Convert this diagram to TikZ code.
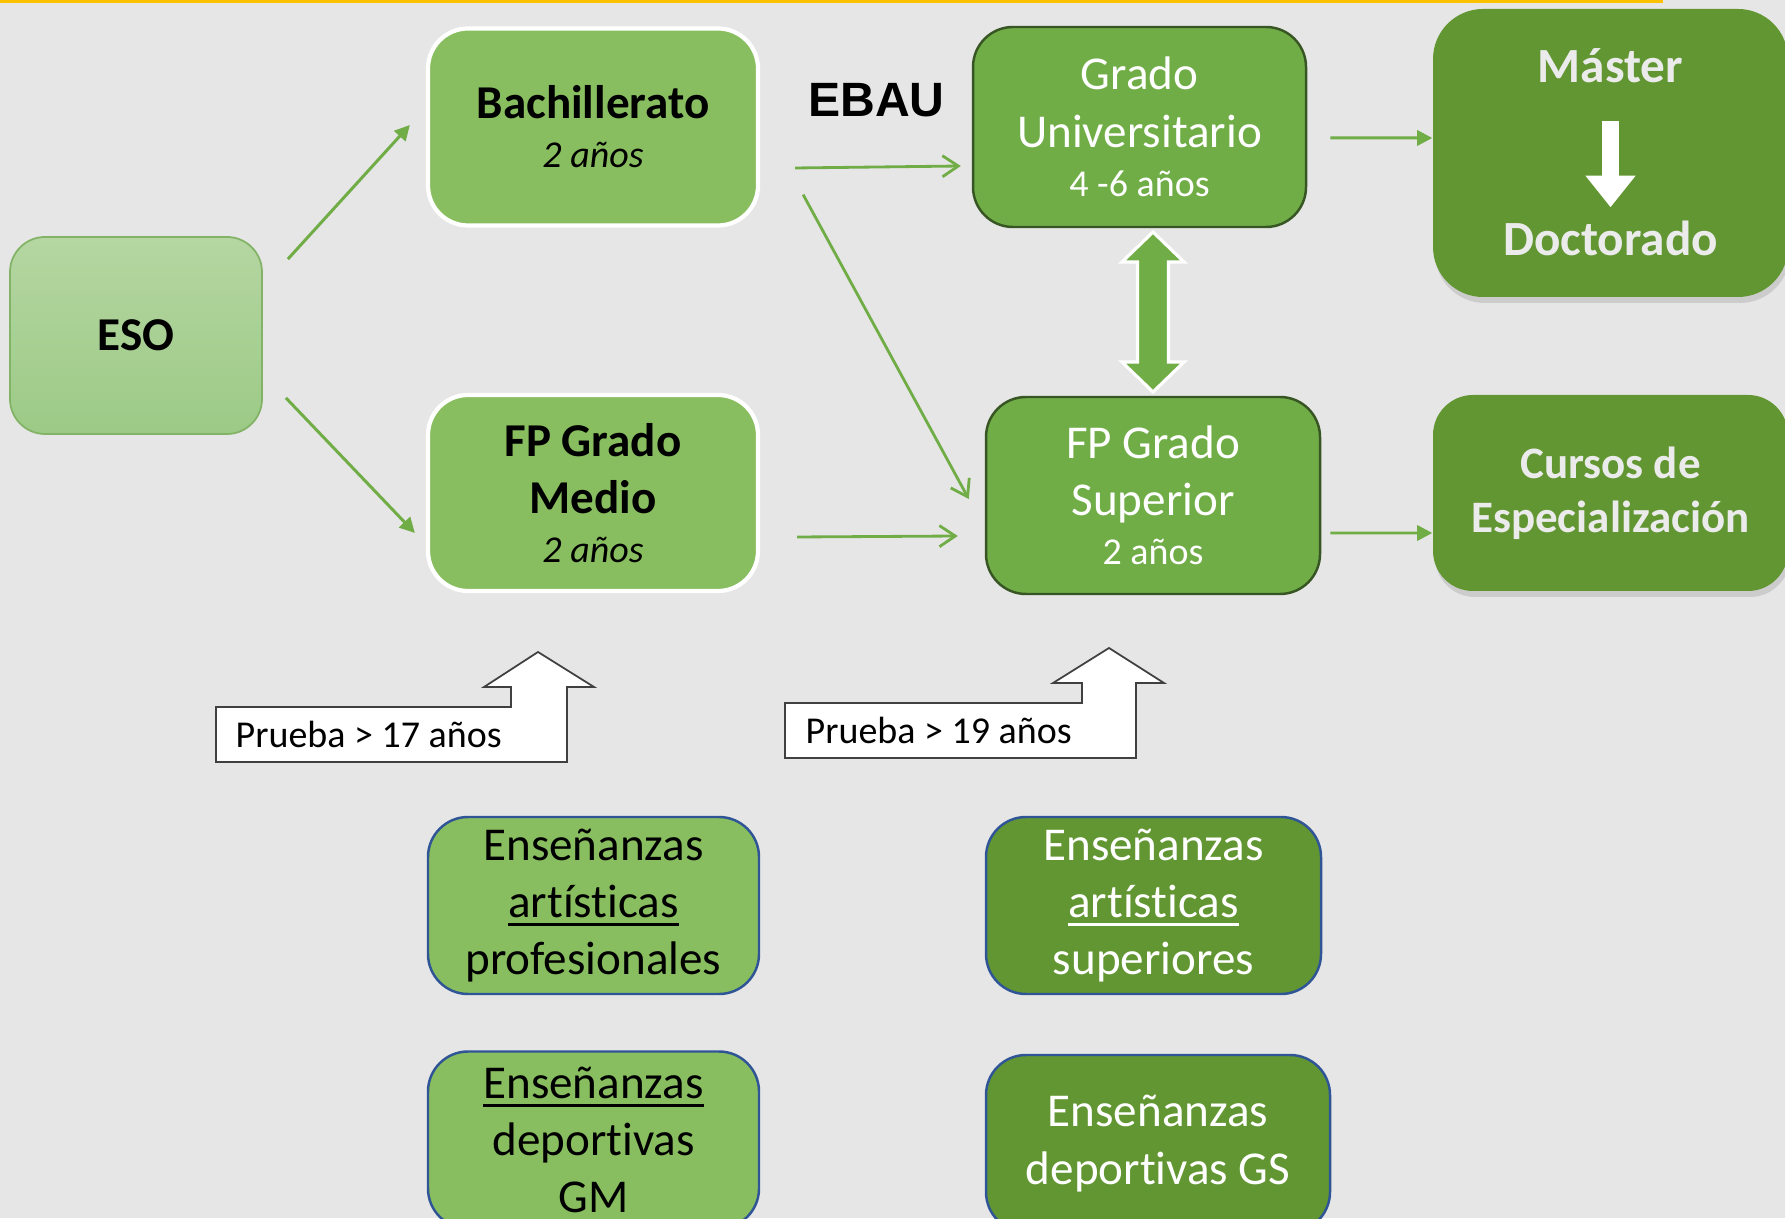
\documentclass[tikz,border=0pt]{standalone}
\usepackage{fontspec}
\setmainfont{Carlito}[Ligatures=NoCommon]
\newfontfamily\arialfont{Liberation Sans}
\usetikzlibrary{arrows.meta,positioning,shadows,calc}
\definecolor{bggray}{HTML}{E7E6E6}
\definecolor{topline}{HTML}{FFC000}
\definecolor{esotop}{HTML}{B5D6A2}
\definecolor{esobot}{HTML}{9CCA86}
\definecolor{esoline}{HTML}{82B366}
\definecolor{litegreen}{HTML}{88BE5F}
\definecolor{midgreen}{HTML}{70AD47}
\definecolor{darkgreen}{HTML}{629632}
\definecolor{darkline}{HTML}{375623}
\definecolor{blueline}{HTML}{2F5597}
\definecolor{txtgray}{HTML}{EBEBEB}
\definecolor{calloutline}{HTML}{404040}
\newcommand{\bigtxt}{\fontsize{13.4pt}{16.3pt}\selectfont}
\newcommand{\smalltxt}{\fontsize{10.8pt}{13.9pt}\selectfont}
\newcommand{\undl}[1]{\leavevmode\vtop{\hbox{#1}\kern1.4pt\hrule height0.85pt}}
\tikzset{box/.style={rounded corners=0.4cm, minimum width=3.3cm, minimum height=1.97cm, inner sep=0pt, align=center, font=\bigtxt}}
\tikzset{litebox/.style={box, fill=litegreen, draw=white, line width=1.2pt}}
\tikzset{midbox/.style={box, fill=midgreen, draw=darkline, line width=0.7pt, text=white}}
\tikzset{shadowbox/.style={box, fill=darkgreen, text=txtgray, minimum width=3.55cm, font=\bigtxt\bfseries, drop shadow={shadow xshift=0.02cm, shadow yshift=-0.06cm, opacity=0.25}}}
\tikzset{bluebox/.style={box, draw=blueline, line width=0.7pt, minimum height=1.77cm}}
\tikzset{arr/.style={draw=midgreen, line width=0.85pt, -{Triangle[length=4.3pt,width=4.3pt]}}}
\tikzset{openarr/.style={draw=midgreen, line width=0.8pt, -{Straight Barb[length=4.5pt,width=6pt]}}}
\tikzset{callout/.style={draw=calloutline, fill=white, line width=0.5pt}}
\tikzset{dblarrow/.style={fill=midgreen, draw=white, line width=0.9pt}}

\begin{document}
\begin{tikzpicture}
        \useasboundingbox (0,0) rectangle (17.85,12.18);
        \clip (0,0) rectangle (17.85,12.18);
        \fill[bggray] (0,0) rectangle (17.85,12.18);
        \fill[topline] (0,12.15) rectangle (16.63,12.18);

        \node[box, draw=esoline, line width=0.5pt, top color=esotop, bottom color=esobot, minimum width=2.52cm, rounded corners=0.35cm, font=\bigtxt\bfseries] (eso) at (1.36,8.825) {ESO};
        \node[litebox] (bach) at (5.93,10.91) {\textbf{Bachillerato}\\[-2.3pt] {\smalltxt\itshape 2 años}};
        \node[litebox, minimum height=1.96cm] (fpm) at (5.93,7.25) {\textbf{FP Grado}\\ \textbf{Medio}\\[-2.3pt] {\smalltxt\itshape 2 años}};
        \node[midbox, minimum width=3.33cm, minimum height=2cm] (grado) at (11.395,10.91) {Grado\\ Universitario\\[-2.3pt] {\smalltxt 4 -6 años}};
        \node[midbox, minimum width=3.34cm] (fpsup) at (11.53,7.225) {FP Grado\\ Superior\\[-2.3pt] {\smalltxt 2 años}};
        \node[font={\arialfont\bfseries\fontsize{13.7pt}{16pt}\selectfont}] (ebau) at (8.765,11.18) {EBAU};

        % master / doctorado
        \node[shadowbox, minimum height=2.88cm, rounded corners=0.5cm] (master) at (16.105,10.65) {};
        \node[anchor=base, text=txtgray, font=\fontsize{14pt}{17pt}\selectfont\bfseries] (mas) at ([yshift=-0.74cm]master.north) {Máster};
        \node[anchor=base, text=txtgray, font=\fontsize{14pt}{17pt}\selectfont\bfseries] (doc) at ([yshift=-2.47cm]master.north) {Doctorado};
        \draw[white, line width=4.8pt, -{Triangle[length=9pt,width=13.7pt]}] ([yshift=-0.39cm]mas.base) -- ([yshift=0.48cm]doc.base);
        \node[shadowbox, minimum height=1.96cm, font=\fontsize{12.8pt}{15.3pt}\selectfont\bfseries] (cursos) at (16.105,7.25) {Cursos de\\ Especialización};

        % pruebas de acceso
        \draw[callout] (2.16,5.11) -- (5.11,5.11) -- (5.11,5.31) -- (4.84,5.31) -- (5.38,5.66) -- (5.94,5.31) -- (5.67,5.31) -- (5.67,4.56) -- (2.16,4.56) -- cycle;
        \node[anchor=west, inner sep=0pt, font=\smalltxt] (p17) at (2.35,4.835) {Prueba > 17 años};
        \draw[callout] (7.85,5.15) -- (10.82,5.15) -- (10.82,5.35) -- (10.53,5.35) -- (11.09,5.70) -- (11.64,5.35) -- (11.36,5.35) -- (11.36,4.60) -- (7.85,4.60) -- cycle;
        \node[anchor=west, inner sep=0pt, font=\smalltxt] (p19) at (8.05,4.875) {Prueba > 19 años};

        \node[bluebox, fill=litegreen, minimum width=3.31cm] (artp) at (5.935,3.125) {Enseñanzas\\ \undl{artísticas}\\ profesionales};
        \node[bluebox, fill=darkgreen, text=white, minimum width=3.35cm] (arts) at (11.535,3.125) {Enseñanzas\\ \undl{artísticas}\\ superiores};
        \node[bluebox, fill=litegreen, minimum width=3.31cm] (depm) at (5.935,0.78) {\undl{Enseñanzas}\\ deportivas\\ GM};
        \node[bluebox, fill=darkgreen, text=white, minimum width=3.44cm] (depgs) at (11.58,0.745) {Enseñanzas\\ deportivas GS};

        \begin{scope}[arr]
            \draw ([shift={(0.25,-0.23)}]eso.north east) -- ([shift={(-0.16,0.02)}]bach.west);
            \draw ([shift={(0.23,0.37)}]eso.south east) -- ([shift={(-0.11,-0.40)}]fpm.west);
            \draw ([shift={(0.23,-0.11)}]grado.east) -- ([yshift=0.15cm]master.west);
            \draw ([shift={(0.09,-0.375)}]fpsup.east) -- ([yshift=-0.40cm]cursos.west);
        \end{scope}
        \begin{scope}[openarr]
            \draw ([shift={(0.35,-0.41)}]bach.east) -- ([shift={(-0.11,-0.39)}]grado.west);
            \draw ([shift={(0.43,0.33)}]bach.south east) -- ([shift={(-0.16,-0.035)}]fpsup.west);
            \draw ([shift={(0.37,-0.44)}]fpm.east) -- ([shift={(-0.27,-0.405)}]fpsup.west);
        \end{scope}

        % grado <-> fp superior
        \coordinate (dm) at ($(fpsup.north)!0.5!(fpsup.north |- grado.south)$);
        \draw[dblarrow] ([yshift=0.80cm]dm) -- ++(0.31,-0.30) -- ++(-0.155,0) -- ++(0,-1.0) -- ++(0.155,0) -- ++(-0.31,-0.30) -- ++(-0.31,0.30) -- ++(0.155,0) -- ++(0,1.0) -- ++(-0.155,0) -- cycle;
\end{tikzpicture}
\end{document}
